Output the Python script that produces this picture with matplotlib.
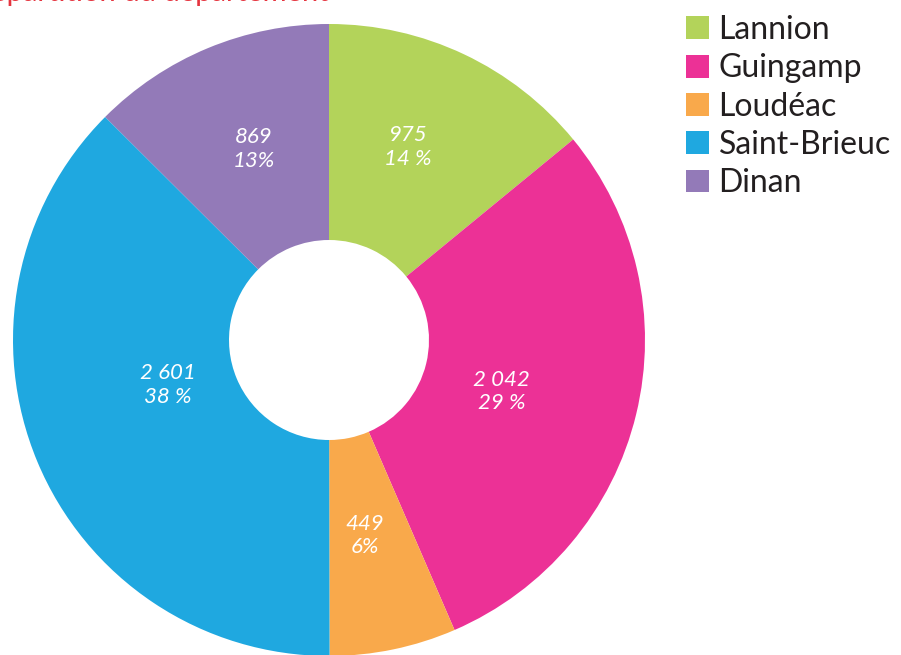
import matplotlib.pyplot as plt
import numpy as np

# Effectifs par site
sites = ['Lannion', 'Guingamp', 'Loudéac', 'Saint-Brieuc', 'Dinan']
values = [975, 2042, 449, 2601, 869]
labels = ['975\n14 %', '2 042\n29 %', '449\n6%', '2 601\n38 %', '869\n13%']
colors = ['#b3d35a', '#ec3196', '#f9a94b', '#1fa8e0', '#937ab8']

# label placement (fraction of radius, angle tweak in degrees)
label_r = [0.66, 0.57, 0.63, 0.53, 0.65]
label_dt = [3, -3, -1.5, -7, -1]

W, H = 901, 655
cx, cy, R = 329, 340, 316

fig = plt.figure(figsize=(W / 100, H / 100), dpi=100)
ax = fig.add_axes([0, 0, 1, 1])

wedges, _ = ax.pie(values, colors=colors, startangle=90, counterclock=False,
                   radius=1, wedgeprops=dict(width=1 - 100 / R, linewidth=0))
ax.set_aspect('auto')
ax.set_xlim(-cx / R, (W - cx) / R)
ax.set_ylim(-(H - cy) / R, cy / R)
ax.axis('off')

for w, lab, rf, dt in zip(wedges, labels, label_r, label_dt):
    ang = np.deg2rad((w.theta1 + w.theta2) / 2 + dt)
    ax.text(rf * np.cos(ang), rf * np.sin(ang), lab, color='white', style='italic',
            fontsize=16, family='Lato', ha='center', va='center', linespacing=1.2)

leg = ax.legend(wedges, sites, loc='upper left', bbox_to_anchor=(686 / W, 1 - 15 / H),
                frameon=False, prop=dict(family='Lato', size=23),
                handlelength=0.72, handleheight=0.72, handletextpad=0.3,
                labelspacing=0.26, borderpad=0, borderaxespad=0)
for t in leg.get_texts():
    t.set_color('#231f20')

# titre coupé en haut de l'image
fig.text(-0.03, 1 - 1.5 / H, 'Répartition du département', color='#e5343f',
         fontsize=21, family='Lato', va='baseline', ha='left')

plt.savefig('out.png', dpi=100)
plt.close()
